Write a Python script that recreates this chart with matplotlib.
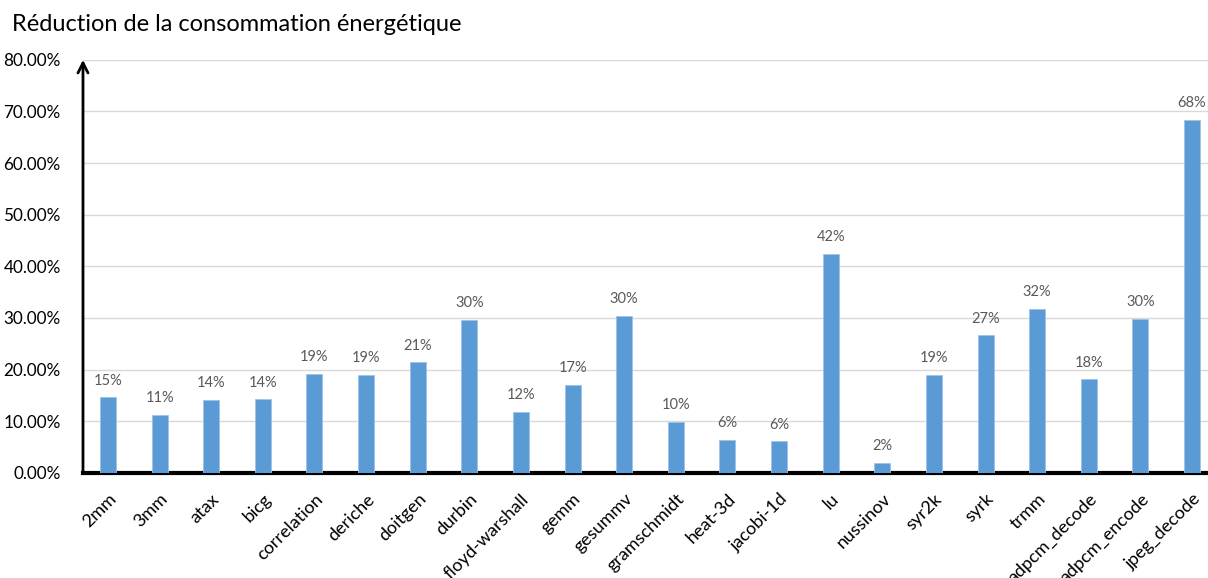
import matplotlib
matplotlib.use('Agg')
import matplotlib.pyplot as plt
import numpy as np

plt.rcParams['font.family'] = ['Lato', 'DejaVu Sans']

# Data
benchmarks = ['2mm', '3mm', 'atax', 'bicg', 'correlation', 'deriche', 'doitgen',
              'durbin', 'floyd-warshall', 'gemm', 'gesummv', 'gramschmidt',
              'heat-3d', 'jacobi-1d', 'lu', 'nussinov', 'syr2k', 'syrk', 'trmm',
              'adpcm_decode', 'adpcm_encode', 'jpeg_decode']
reduction = [14.6, 11.2, 14.1, 14.2, 19.1, 18.9, 21.4, 29.6, 11.8, 17.0, 30.4,
             9.9, 6.3, 6.1, 42.4, 1.9, 19.0, 26.6, 31.8, 18.1, 29.8, 68.3]
yticks = np.arange(0, 90, 10)

fig = plt.figure(figsize=(12.08, 5.78), dpi=100)
ax = fig.add_axes([0.0687, 0.182, 0.9313, 0.7145])

x = np.arange(len(benchmarks))
bars = ax.bar(x, reduction, width=0.31, color='#5B9BD5', edgecolor='#9DC3E6',
              linewidth=0.6, zorder=3)

for xi, v in zip(x, reduction):
    ax.text(xi, v + 1.9, '%d%%' % round(v), ha='center', va='bottom',
            fontsize=10.5, color='#595959')

ax.set_xlim(-0.485, 21.31)
ax.set_ylim(0, 80)
ax.set_yticks(yticks)
ax.set_yticklabels(['%.2f%%' % t for t in yticks], fontsize=12.3, color='#000000')
ax.set_xticks(x)
ax.set_xticklabels(benchmarks, rotation=45, ha='right', rotation_mode='anchor',
                   fontsize=13)
ax.tick_params(axis='both', length=0)
ax.tick_params(axis='x', pad=13)
ax.tick_params(axis='y', pad=16)

for t in yticks[1:]:
    ax.axhline(t, color='#D9D9D9', linewidth=1.0, zorder=1)

for s in ['top', 'right']:
    ax.spines[s].set_visible(False)
ax.spines['left'].set_visible(False)
ax.spines['bottom'].set_linewidth(3)
ax.spines['bottom'].set_color('black')

# y axis drawn as an arrow
ax.annotate('', xy=(0.0, 1.0), xytext=(0.0, 0.0), xycoords='axes fraction',
            arrowprops=dict(arrowstyle='->', lw=2, color='black',
                            mutation_scale=18, shrinkA=0, shrinkB=0))

fig.text(0.01, 0.958, 'Réduction de la consommation énergétique', fontsize=17,
         ha='left', va='center')

fig.savefig('out.png', dpi=100)
